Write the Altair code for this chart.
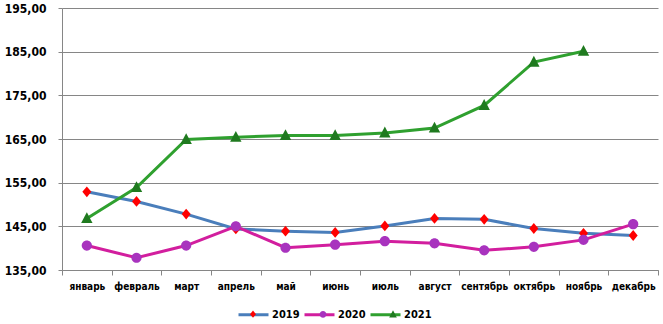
import altair as alt
import pandas as pd

months = ["январь", "февраль", "март", "апрель", "май", "июнь",
          "июль", "август", "сентябрь", "октябрь", "ноябрь", "декабрь"]
years = ["2019", "2020", "2021"]
v2019 = [152.9, 150.7, 147.8, 144.4, 143.9, 143.6, 145.1, 146.8, 146.6, 144.5, 143.4, 142.9]
v2020 = [140.6, 137.8, 140.6, 145.0, 140.1, 140.8, 141.6, 141.1, 139.5, 140.3, 141.9, 145.5]
v2021 = [146.8, 153.9, 164.9, 165.4, 165.8, 165.8, 166.4, 167.5, 172.7, 182.6, 185.1, None]
y_ticks = [135, 145, 155, 165, 175, 185, 195]

line_colors = ["#4A7EBB", "#D21E9E", "#2FA02F"]
marker_colors = ["#FF0000", "#A833BE", "#1F7A1F"]
marker_paths = [
    "M0,-0.36L0.3,0L0,0.36L-0.3,0Z",
    "M-0.34,0A0.34,0.34,0,1,0,0.34,0A0.34,0.34,0,1,0,-0.34,0Z",
    "M0,-0.42L0.38,0.3L-0.38,0.3Z",
]

marker_keys = [y + " " for y in years]

rows = []
for yr, key, vals in zip(years, marker_keys, [v2019, v2020, v2021]):
    for m, v in zip(months, vals):
        if v is not None:
            rows.append({"month": m, "value": v, "year": yr, "yearm": key})
df = pd.DataFrame(rows)

FONT = "DejaVu Sans Condensed"

x = alt.X("month:N", sort=months, title=None,
          scale=alt.Scale(type="band", paddingInner=0, paddingOuter=0),
          axis=alt.Axis(labelAngle=0, tickBand="extent", tickSize=5,
                        tickColor="#868686", domainColor="#868686",
                        labelFont=FONT, labelFontWeight="bold", labelFontSize=10,
                        labelColor="#000000", labelPadding=6, grid=False))
y = alt.Y("value:Q", title=None,
          scale=alt.Scale(domain=[135, 195], nice=False, zero=False),
          axis=alt.Axis(values=y_ticks, tickSize=4, tickColor="#868686",
                        domainColor="#868686", gridColor="#868686",
                        labelExpr="replace(format(datum.value, '.2f'), '.', ',')",
                        labelFont=FONT, labelFontWeight="bold", labelFontSize=12,
                        labelColor="#000000", labelPadding=12))

line_legend = alt.Legend(orient="none", legendX=175, legendY=290, direction="horizontal",
                         title=None, symbolSize=900, symbolType="stroke",
                         symbolStrokeWidth=3, labelFont=FONT,
                         labelFontWeight="bold", labelFontSize=11, labelColor="#000000",
                         labelOffset=2, columnPadding=-2)

marker_legend = dict(orient="none", legendX=180, legendY=295, direction="horizontal",
                     title=None, symbolSize=400, labelExpr="''",
                     labelFontSize=11, labelOffset=2, columnPadding=46)

lines = alt.Chart(df).mark_line(strokeWidth=3).encode(
    x=x, y=y,
    stroke=alt.Stroke("year:N", scale=alt.Scale(domain=years, range=line_colors),
                      legend=line_legend),
)

points = alt.Chart(df).mark_point(filled=True, size=900, opacity=1).encode(
    x=x, y=y,
    fill=alt.Fill("yearm:N", scale=alt.Scale(domain=marker_keys, range=marker_colors),
                  legend=alt.Legend(**marker_legend)),
    shape=alt.Shape("yearm:N", scale=alt.Scale(domain=marker_keys, range=marker_paths),
                    legend=alt.Legend(**marker_legend)),
)

chart = alt.layer(lines, points).resolve_scale(x="shared").properties(
    width=596, height=262,
    autosize=alt.AutoSizeParams(type="none"),
    padding={"left": 62, "top": 8, "right": 5, "bottom": 54},
    background="#ffffff",
).configure_view(stroke=None)

chart.save("out.html", embed_options={"renderer": "svg", "actions": False})
